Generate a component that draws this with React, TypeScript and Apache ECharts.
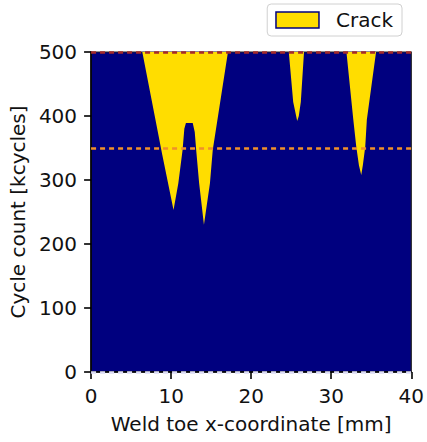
import React, { useEffect, useRef } from "react";
import * as echarts from "echarts";

// Crack front: for each weld-toe x position [mm], the cycle count [kcycles]
// above which the location is cracked (500 = no crack).
const crackX = [0, 6.4, 8.9, 10.3, 10.9, 11.43, 11.65, 11.85, 12.7, 12.95, 13.13, 13.5, 14.1, 14.85, 15.2, 17.1, 24.7, 25.25, 25.75, 25.95, 26.2, 26.6, 31.9, 32.76, 33.13, 33.46, 33.75, 33.95, 34.25, 34.45, 35.6, 40];
const crackFront = [500, 500, 339, 253, 295, 347, 380, 389, 389, 375, 347, 295, 230, 295, 347, 500, 500, 422, 392, 400, 422, 500, 500, 394, 352, 323, 308, 323, 352, 394, 500, 500];

const xTicks = [0, 10, 20, 30, 40];
const yTicks = [0, 100, 200, 300, 400, 500];
const refLines = [500, 350, 0];
const refColors = ["#a52a2a", "#f0902a", "#dcdcf5"];

const NAVY = "#00007f";
const GOLD = "#ffdd00";
const FONT = "DejaVu Sans";

export default function App() {
  const ref = useRef<HTMLDivElement>(null);
  useEffect(() => {
    if (!ref.current) return;
    const chart = echarts.init(ref.current, null, { renderer: "svg" });
    const data = crackX.map((x, i) => [x, crackFront[i]]);
    chart.setOption({
      animation: false,
      backgroundColor: "#ffffff",
      textStyle: { fontFamily: FONT },
      grid: {
        left: 90,
        right: 15,
        top: 52,
        bottom: 70,
        show: true,
        backgroundColor: NAVY,
        borderColor: "#222",
        borderWidth: 1.2,
      },
      legend: {
        right: 25,
        top: 4,
        padding: [6, 9, 6, 8],
        backgroundColor: "#ffffff",
        borderColor: "#d0d0d0",
        borderWidth: 1,
        borderRadius: 4,
        itemWidth: 43,
        itemHeight: 16,
        textStyle: { fontFamily: FONT, fontSize: 20, color: "#111", padding: [0, 0, 0, 12] },
        data: [
          {
            name: "Crack",
            icon: "rect",
            itemStyle: { color: GOLD, borderColor: NAVY, borderWidth: 1.5 },
          },
        ],
      },
      xAxis: {
        type: "value",
        min: xTicks[0],
        max: xTicks[xTicks.length - 1],
        interval: 10,
        name: "Weld toe x-coordinate [mm]",
        nameLocation: "middle",
        nameGap: 42,
        nameTextStyle: { fontFamily: FONT, fontSize: 20, color: "#111" },
        axisLine: { show: true, lineStyle: { color: "#000", width: 1.6 } },
        axisTick: { show: true, inside: false, length: 7, lineStyle: { color: "#000", width: 1.6 } },
        axisLabel: { fontFamily: FONT, fontSize: 20, color: "#111", margin: 14 },
        splitLine: { show: false },
      },
      yAxis: {
        type: "value",
        min: yTicks[0],
        max: yTicks[yTicks.length - 1],
        interval: 100,
        name: "Cycle count [kcycles]",
        nameLocation: "middle",
        nameGap: 62,
        nameTextStyle: { fontFamily: FONT, fontSize: 20, color: "#111" },
        axisLine: { show: true, lineStyle: { color: "#000", width: 1.6 } },
        axisTick: { show: true, inside: false, length: 7, lineStyle: { color: "#000", width: 1.6 } },
        axisLabel: { fontFamily: FONT, fontSize: 20, color: "#111", margin: 14 },
        splitLine: { show: false },
      },
      series: [
        {
          name: "Crack",
          type: "line",
          data,
          showSymbol: false,
          symbol: "none",
          color: GOLD,
          lineStyle: { width: 0, opacity: 0 },
          areaStyle: { color: GOLD, opacity: 1, origin: "end" },
          clip: true,
          z: 2,
          markLine: {
            silent: true,
            symbol: "none",
            label: { show: false },
            data: refLines.map((v, i) => ({
              yAxis: v,
              lineStyle: { color: refColors[i], width: 2.5, type: [5, 4], opacity: 1 },
            })),
          },
        },
      ],
    });
    return () => chart.dispose();
  }, []);
  return (
    <div
      ref={ref}
      style={{ position: "fixed", left: 0, top: 0, width: 427, height: 442 }}
    />
  );
}
